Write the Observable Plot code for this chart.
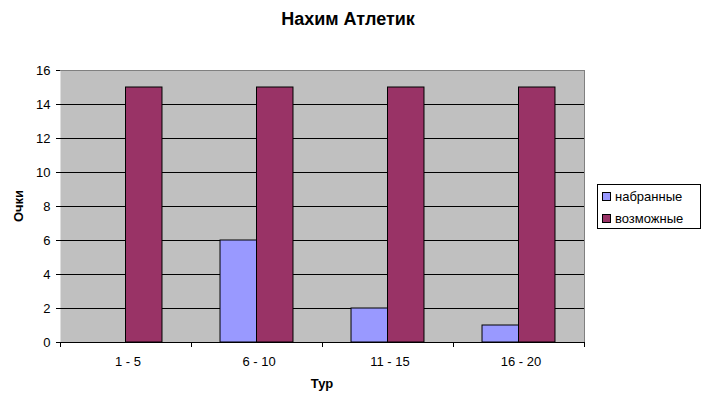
<!DOCTYPE html>
<html><head><meta charset="utf-8">
<script src="https://cdn.jsdelivr.net/npm/d3@7"></script>
<script src="https://cdn.jsdelivr.net/npm/@observablehq/plot@0.6"></script>
<style>
body{margin:0;background:#fff;font-family:"Liberation Sans",Arial,sans-serif;color:#000}
#wrap{position:relative;width:703px;height:407px;overflow:hidden}
#wrap svg{position:absolute;left:0;top:0}
.title{position:absolute;left:348px;top:9px;transform:translateX(-50%);font-weight:bold;font-size:18px;white-space:nowrap}
.xlab{position:absolute;left:322px;top:376px;transform:translateX(-50%);font-weight:bold;font-size:13px}
.ylab{position:absolute;left:18px;top:206px;transform:translate(-50%,-50%) rotate(-90deg);font-weight:bold;font-size:13px}
.legend{position:absolute;left:597px;top:184px;width:102px;height:43px;border:1px solid #000;background:#fff;font-size:13px}
.item{position:absolute;left:4px;display:flex;align-items:center;white-space:nowrap}
.sw{width:7px;height:7px;border:1px solid #000;margin-right:4px}
</style></head><body><div id="wrap"></div>
<script>
const rounds = ["1 - 5", "6 - 10", "11 - 15", "16 - 20"];
const seriesNames = ["набранные", "возможные"];
const scored = [0, 6, 2, 1];
const possible = [15, 15, 15, 15];
const yTicks = [0, 2, 4, 6, 8, 10, 12, 14, 16];
const colors = ["#9999FF", "#993366"];
const titleText = "Нахим Атлетик";
const xTitle = "Тур";
const yTitle = "Очки";

const seriesValues = [scored, possible];

const W = 703, H = 407, mL = 60, mR = 119, mT = 70, mB = 65;
const step = (W - mL - mR) / rounds.length;   // width of one category band
const groupFrac = 0.557;                        // share of a band used by the bar group
const barW = step * groupFrac / seriesNames.length;
const outer = step * (1 - groupFrac) / 2;

const barMarks = seriesNames.map((s, si) => {
  const rows = rounds.map((r, i) => ({round: r, series: s, value: seriesValues[si][i]}));
  const left = outer + si * barW;
  return Plot.barY(rows, {
    x: "round", y: "value", fill: "series", stroke: "black",
    insetLeft: left, insetRight: step - left - barW
  });
});

const chart = Plot.plot({
  width: W, height: H,
  marginLeft: mL, marginRight: mR, marginTop: mT, marginBottom: mB,
  style: {fontFamily: "Liberation Sans, Arial, sans-serif", fontSize: "13px", color: "black", background: "transparent"},
  x: {domain: rounds, padding: 0, label: null},
  y: {domain: [yTicks[0], yTicks[yTicks.length - 1]], label: null},
  color: {domain: seriesNames, range: colors},
  marks: [
    Plot.frame({fill: "#c0c0c0", stroke: "none"}),
    Plot.ruleY(yTicks.slice(1, -1), {stroke: "black"}),
    Plot.frame({anchor: "top", stroke: "#808080"}),
    Plot.frame({anchor: "right", stroke: "#808080"}),
    ...barMarks,
    Plot.ruleY([0], {stroke: "black"}),
    Plot.axisY({ticks: yTicks, tickSize: 4, tickPadding: 6, line: true, label: null}),
    Plot.axisX({tickSize: 0, tickPadding: 14, label: null, dx: 2}),
    Plot.axisX({tickSize: 5, text: null, label: null, dx: -step / 2}),
    Plot.axisX({ticks: [rounds[rounds.length - 1]], tickSize: 5, text: null, label: null, dx: step / 2})
  ]
});

const wrap = document.getElementById("wrap");
wrap.appendChild(chart);
const add = (cls, txt) => { const d = document.createElement("div"); d.className = cls; d.textContent = txt; wrap.appendChild(d); return d; };
add("title", titleText);
add("xlab", xTitle);
add("ylab", yTitle);
const lg = add("legend", "");
seriesNames.forEach((s, i) => {
  const it = document.createElement("div");
  it.className = "item";
  it.style.top = (4 + i * 22) + "px";
  const sw = document.createElement("span");
  sw.className = "sw";
  sw.style.background = colors[i];
  const t = document.createElement("span");
  t.textContent = s;
  it.appendChild(sw); it.appendChild(t);
  lg.appendChild(it);
});
</script></body></html>
